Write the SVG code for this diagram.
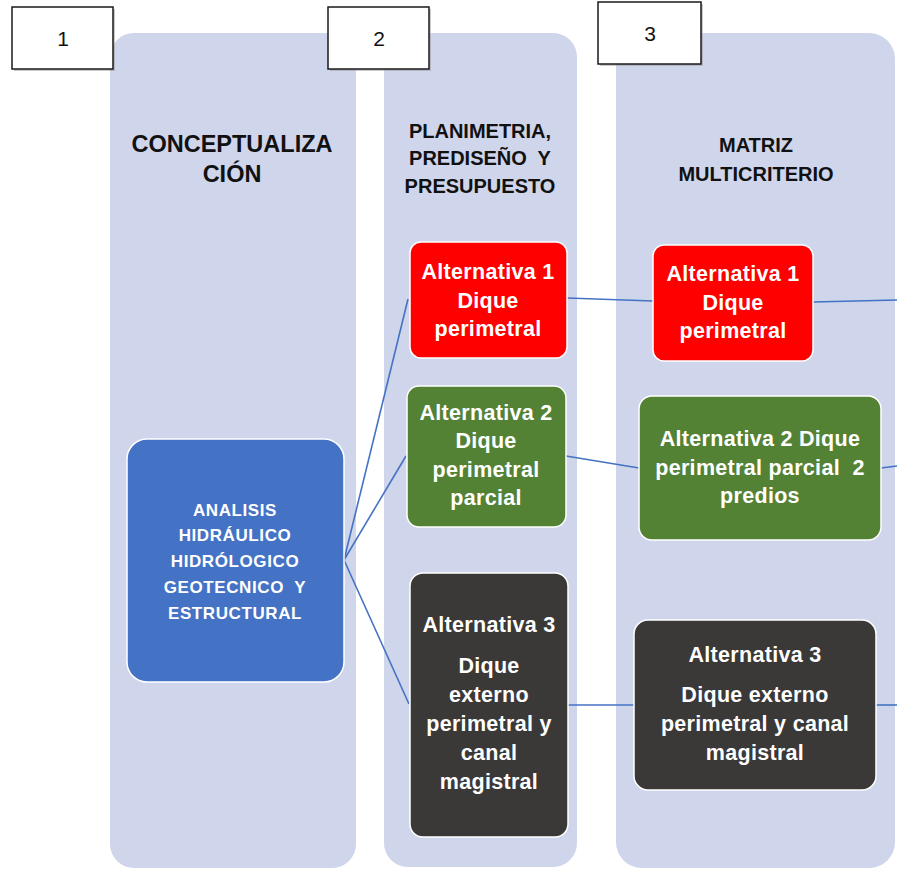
<svg xmlns="http://www.w3.org/2000/svg" width="897" height="869" viewBox="0 0 897 869">
<style>
.col{fill:#CFD5EA}
.num rect.b{fill:#fff;stroke:#1a1a1a;stroke-width:1.5}
.num rect.s{fill:#9a9a9a;opacity:.5}
.num text{font-family:"Liberation Sans",Arial,sans-serif;font-size:21px;fill:#111;text-anchor:middle}
.hd{font-family:"Liberation Sans",Arial,sans-serif;font-weight:bold;fill:#111;text-anchor:middle}
.node rect{stroke:#fff;stroke-width:1.5}
.node text{font-family:"Liberation Sans",Arial,sans-serif;font-weight:bold;fill:#fff;text-anchor:middle;font-size:21.5px;letter-spacing:0.3px}
.blue text{font-size:17px;letter-spacing:0.6px}
.conn line{stroke:#4472C4;stroke-width:1.6;fill:none}
</style>
<rect width="897" height="869" fill="#fff"/>
<g id="columns">
<rect class="col" x="110" y="33" width="246" height="835" rx="24"/>
<rect class="col" x="384" y="33" width="193" height="834" rx="24"/>
<rect class="col" x="616" y="33" width="279" height="835" rx="26"/>
</g>
<g id="num1" class="num"><rect class="s" x="14" y="9" width="101" height="62"/><rect class="b" x="12" y="7" width="101" height="62"/><text x="63" y="46">1</text></g>
<g id="num2" class="num"><rect class="s" x="330" y="9" width="101" height="62"/><rect class="b" x="328" y="7" width="101" height="62"/><text x="379" y="46">2</text></g>
<g id="num3" class="num"><rect class="s" x="600" y="4" width="103" height="62"/><rect class="b" x="598" y="2" width="103" height="62"/><text x="650" y="41">3</text></g>
<g id="headers">
<text class="hd" x="232" y="152" font-size="23.5">CONCEPTUALIZA</text>
<text class="hd" x="232" y="182" font-size="23.5">CIÓN</text>
<text class="hd" x="480" y="138" font-size="20">PLANIMETRIA,</text>
<text class="hd" x="480" y="165" font-size="20" xml:space="preserve">PREDISEÑO  Y</text>
<text class="hd" x="480" y="193" font-size="20">PRESUPUESTO</text>
<text class="hd" x="756" y="152" font-size="20">MATRIZ</text>
<text class="hd" x="756" y="181" font-size="20">MULTICRITERIO</text>
</g>
<g id="connectors" class="conn">
<line x1="344" y1="560" x2="408" y2="299"/>
<line x1="344" y1="560" x2="406" y2="456"/>
<line x1="344" y1="560" x2="409" y2="704"/>
<line x1="567" y1="298" x2="653" y2="301"/>
<line x1="813" y1="302" x2="897" y2="300"/>
<line x1="566" y1="456" x2="639" y2="468"/>
<line x1="881" y1="468" x2="897" y2="466"/>
<line x1="568" y1="705" x2="634" y2="705"/>
<line x1="876" y1="705" x2="897" y2="705"/>
</g>
<g id="analisis" class="node blue">
<rect x="127" y="439" width="217" height="243" rx="20" fill="#4472C4"/>
<text x="235" y="516">ANALISIS</text>
<text x="235" y="541">HIDRÁULICO</text>
<text x="235" y="567">HIDRÓLOGICO</text>
<text x="235" y="593" xml:space="preserve">GEOTECNICO  Y</text>
<text x="235" y="619">ESTRUCTURAL</text>
</g>
<g id="alt1-p" class="node">
<rect x="410" y="242" width="157" height="116" rx="11" fill="#FF0000"/>
<text x="488" y="279">Alternativa 1</text>
<text x="488" y="308">Dique</text>
<text x="488" y="336">perimetral</text>
</g>
<g id="alt2-p" class="node">
<rect x="407" y="386" width="159" height="141" rx="12" fill="#548235"/>
<text x="486" y="420">Alternativa 2</text>
<text x="486" y="448">Dique</text>
<text x="486" y="477">perimetral</text>
<text x="486" y="505">parcial</text>
</g>
<g id="alt3-p" class="node">
<rect x="410" y="573" width="158" height="264" rx="13" fill="#3B3838"/>
<text x="489" y="632">Alternativa 3</text>
<text x="489" y="673">Dique</text>
<text x="489" y="702">externo</text>
<text x="489" y="731">perimetral y</text>
<text x="489" y="760">canal</text>
<text x="489" y="789">magistral</text>
</g>
<g id="alt1-m" class="node">
<rect x="653" y="245" width="160" height="116" rx="11" fill="#FF0000"/>
<text x="733" y="281">Alternativa 1</text>
<text x="733" y="310">Dique</text>
<text x="733" y="338">perimetral</text>
</g>
<g id="alt2-m" class="node">
<rect x="639" y="396" width="242" height="144" rx="13" fill="#548235"/>
<text x="760" y="446">Alternativa 2 Dique</text>
<text x="760" y="475" xml:space="preserve">perimetral parcial  2</text>
<text x="760" y="503">predios</text>
</g>
<g id="alt3-m" class="node">
<rect x="634" y="620" width="242" height="170" rx="14" fill="#3B3838"/>
<text x="755" y="662">Alternativa 3</text>
<text x="755" y="702">Dique externo</text>
<text x="755" y="731">perimetral y canal</text>
<text x="755" y="760">magistral</text>
</g>
</svg>
